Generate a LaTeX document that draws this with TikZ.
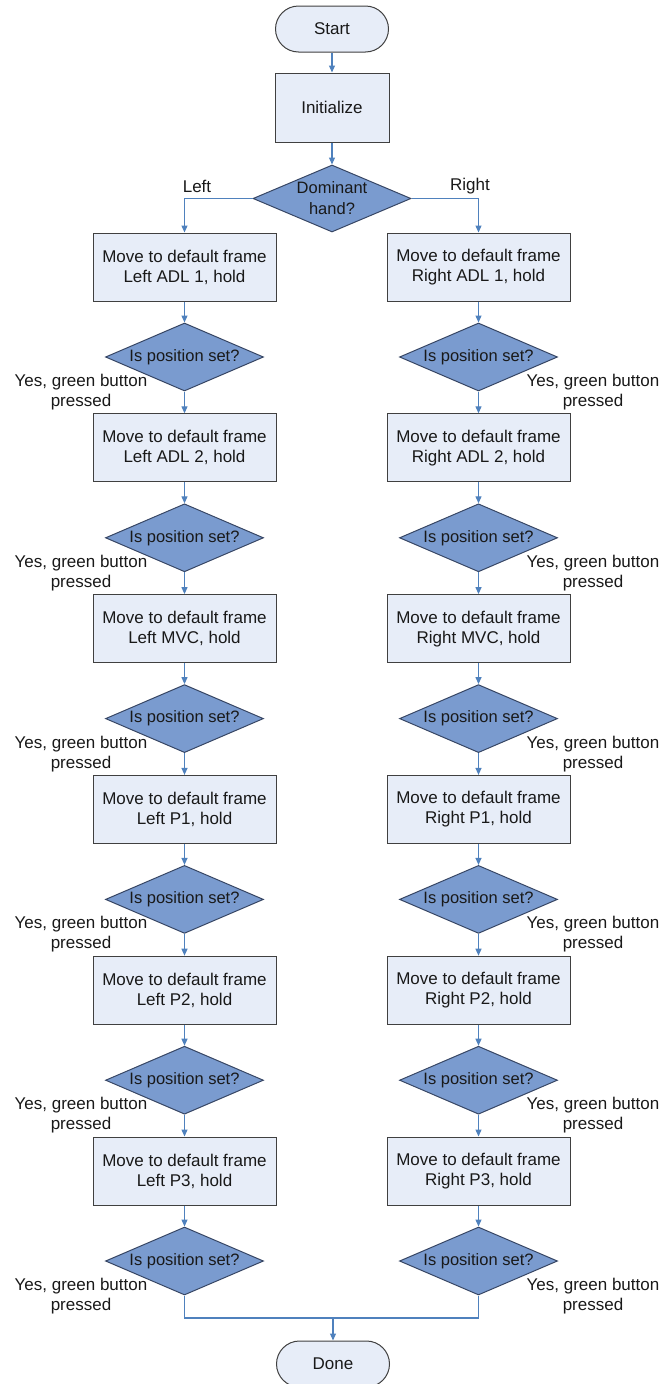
\documentclass[tikz,border=0pt]{standalone}
\usepackage{fontspec}
\setmainfont{Liberation Sans}
\usetikzlibrary{shapes.geometric,arrows.meta}
\definecolor{boxfill}{RGB}{231,237,248}
\definecolor{boxline}{RGB}{64,64,64}
\definecolor{diafill}{RGB}{122,155,207}
\definecolor{dialine}{RGB}{55,70,100}
\definecolor{arrowcol}{RGB}{79,129,189}
\definecolor{txt}{RGB}{25,25,25}
\begin{document}
\begin{tikzpicture}[x=1pt,y=-1pt,
  font=\fontsize{17}{20}\selectfont,
  every node/.style={text=txt},
  procbox/.style={draw=boxline, fill=boxfill, line width=1pt, minimum width=183pt, minimum height=68pt, align=center, inner sep=0pt},
  termbox/.style={draw=boxline, fill=boxfill, line width=1pt, rounded corners=23pt, minimum width=113pt, minimum height=46pt, inner sep=0pt},
  decbox/.style={diamond, draw=dialine, fill=diafill, line width=1pt, minimum width=158pt, minimum height=68pt, inner sep=0pt, aspect=2.3, align=center, font=\fontsize{16.5}{21}\selectfont},
  flow/.style={draw=arrowcol, line width=1.2pt, -{Triangle[width=6pt,length=7pt]}},
  link/.style={draw=arrowcol, line width=1.2pt},
  yeslbl/.style={align=center, inner sep=0pt},
]
\useasboundingbox (0,0) rectangle (665,1384);

\node[termbox] (start) at (332,29) {Start};
\node[procbox, minimum width=114pt, minimum height=69pt] (init) at (332,107.5) {Initialize};
\node[decbox, minimum height=67pt] (dom) at (332,198.5) {Dominant\\hand?};

\foreach \i/\nm in {1/ADL 1,2/ADL 2,3/MVC,4/P1,5/P2,6/P3} {
  \node[procbox] (L\i) at (184.5,{267+180.8*(\i-1)}) {Move to default frame\\Left \nm, hold};
  \node[procbox] (R\i) at (478.5,{267+180.8*(\i-1)}) {Move to default frame\\Right \nm, hold};
  \node[decbox] (DL\i) at (184.5,{357+180.8*(\i-1)}) {Is position set?};
  \node[decbox] (DR\i) at (478.5,{357+180.8*(\i-1)}) {Is position set?};
  \node[yeslbl] (YL\i) at (81,{392+180.8*(\i-1)}) {Yes, green button\\pressed};
  \node[yeslbl] (YR\i) at (593,{392+180.8*(\i-1)}) {Yes, green button\\pressed};
  \draw[flow] (L\i) -- (DL\i);
  \draw[flow] (R\i) -- (DR\i);
}
\foreach \i [evaluate=\i as \j using int(\i+1)] in {1,...,5} {
  \draw[flow] (DL\i) -- (L\j);
  \draw[flow] (DR\i) -- (R\j);
}

\node[termbox] (done) at (333,1364) {Done};

\draw[flow] (start) -- (init);
\draw[flow] (init) -- (dom);
\draw[flow] (dom.west) -| (L1.north);
\draw[flow] (dom.east) -| (R1.north);
\node (lblL) at (197,186) {Left};
\node (lblR) at (470,186) {Right};

\coordinate (merge) at (333,1318);
\draw[link] (DL6.south) |- (merge) -| (DR6.south);
\draw[flow] (merge) -- (done.north);
\end{tikzpicture}
\end{document}
